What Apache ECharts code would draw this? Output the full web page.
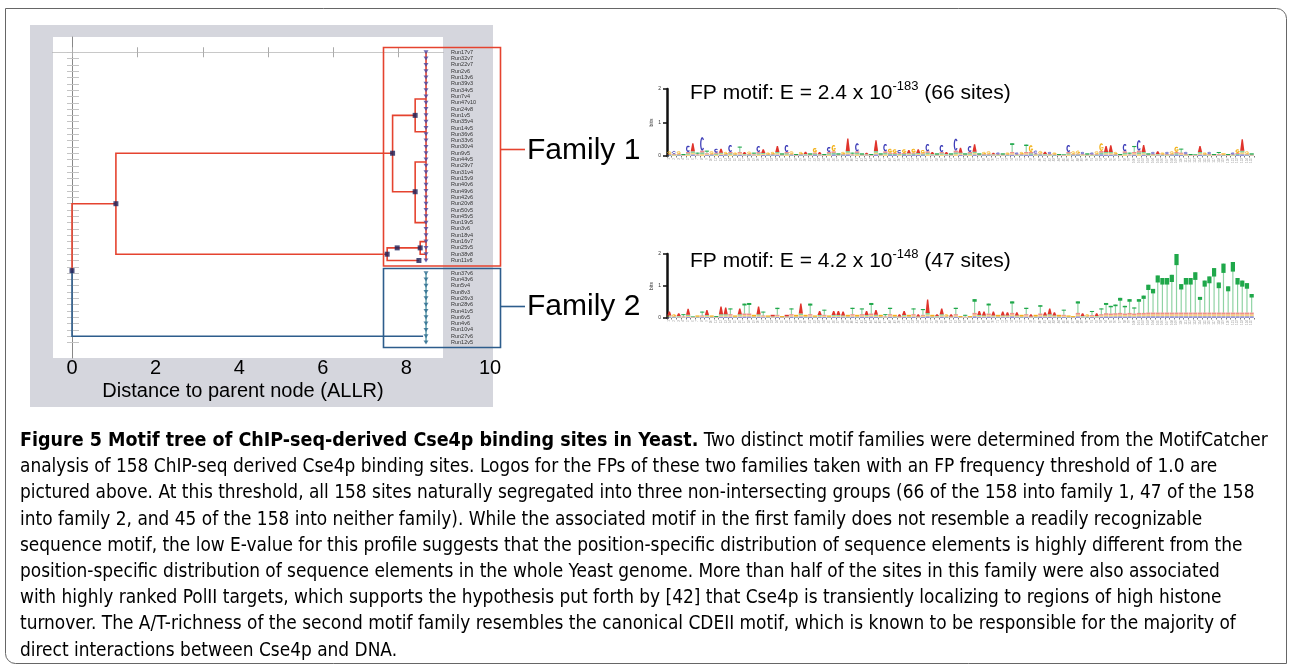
<!DOCTYPE html>
<html>
<head>
<meta charset="utf-8">
<script src="https://cdn.jsdelivr.net/npm/echarts@6/dist/echarts.min.js"></script>
<style>
  html, body { margin: 0; padding: 0; background: #fff; }
  #chart { width: 1290px; height: 666px; }
</style>
</head>
<body>
<div id="chart"></div>
<script>
// leaves of the motif tree, top to bottom
var family1Leaves = ['Run17v7','Run32v7','Run22v7','Run2v6','Run13v6','Run39v3','Run34v5','Run7v4','Run47v10','Run24v8',
  'Run1v5','Run35v4','Run14v5','Run36v6','Run33v6','Run30v4','Run9v5','Run44v5','Run29v7','Run31v4',
  'Run15v9','Run40v6','Run49v6','Run42v6','Run20v8','Run50v5','Run45v5','Run19v5','Run3v6','Run18v4',
  'Run16v7','Run25v5','Run38v8','Run11v6'];
var family2Leaves = ['Run37v6','Run43v6','Run5v4','Run8v3','Run26v3','Run28v6','Run41v5','Run6v5','Run4v6','Run10v4','Run27v6','Run12v5'];
var leafDistance = 8.47;

// elbow edges: [parent distance, parent row, child row, child distance]
var redEdges = [
  [0, 34.6, 24, 1.05],
  [1.05, 24, 16, 7.67], [1.05, 24, 32, 7.54],
  [7.67, 16, 10, 8.21], [7.67, 16, 22.1, 8.21],
  [8.21, 10, 7.4, 8.47], [8.21, 10, 12.6, 8.47],
  [8.21, 22.1, 17.4, 8.47], [8.21, 22.1, 27, 8.47],
  [7.54, 32, 31, 8.33], [7.54, 32, 33, 8.30],
  [8.33, 31, 30, 8.47], [8.33, 31, 32, 8.47]
];
var blueEdges = [[0, 34.6, 45, 8.40]];
var innerNodes = [[0, 34.6], [1.05, 24], [7.67, 16], [7.54, 32], [8.21, 10], [8.21, 22.1], [8.33, 31], [8.30, 33], [7.78, 31]];
var frameTicks = [0, 1.57, 3.13, 4.69, 6.25, 7.81];

// sequence logo of family 1: top letter, total bits, bits of the small letters under it
var logo1Letters = 'GCGTCATCTG' + 'CAGCGTAGTC' + 'AGGATCGTGA' + 'TGATCGTGAT' + 'CTATATCGGC' + 'GAGAGCATCA' +
  'TCATCATGGA' + 'CTGTCGTGCG' + 'ACGTTCGGCT' + 'CGGAAGTCTT' + 'CATCAGCGGT' + 'CTTAGCTTGT' + 'CGAGT';
var logo1Bits = [.14,.15,.14,.06,.31,.38,.10,.56,.16,.14, .22,.22,.12,.33,.10,.28,.12,.13,.10,.30,
  .20,.10,.12,.30,.08,.33,.14,.06,.12,.13, .08,.24,.12,.06,.27,.33,.08,.12,.52,.10,
  .38,.08,.10,.06,.47,.08,.36,.22,.20,.18, .20,.18,.22,.20,.18,.36,.12,.08,.33,.12,
  .08,.52,.25,.08,.30,.35,.08,.12,.14,.10, .10,.08,.10,.38,.10,.12,.34,.32,.16,.15,
  .13,.12,.10,.06,.05,.33,.14,.16,.12,.08, .10,.14,.38,.30,.32,.12,.06,.36,.10,.30,
  .47,.33,.08,.12,.14,.10,.12,.14,.28,.22, .12,.06,.05,.30,.10,.12,.06,.12,.08,.06,
  .10,.20,.50,.14,.08];
var logo1Base = [.06,.06,.06,.03,.12,.14,.05,.16,.08,.06, .10,.10,.06,.12,.05,.12,.06,.06,.05,.12,
  .09,.05,.06,.12,.04,.12,.06,.03,.06,.06, .04,.10,.05,.03,.12,.14,.04,.06,.15,.05,
  .14,.04,.05,.03,.15,.04,.14,.10,.09,.08, .09,.08,.10,.09,.08,.14,.06,.04,.12,.06,
  .04,.16,.10,.04,.12,.13,.04,.06,.06,.05, .05,.04,.05,.12,.05,.06,.12,.12,.07,.07,
  .06,.06,.05,.03,.03,.12,.06,.07,.06,.04, .05,.06,.15,.12,.12,.06,.03,.14,.05,.12,
  .16,.12,.04,.06,.06,.05,.06,.06,.12,.10, .06,.03,.03,.12,.05,.06,.03,.06,.04,.03,
  .05,.09,.16,.06,.04];

// sequence logo of family 2
var logo2Letters = 'AGATATGTAG' + 'TAATGATTGA' + 'TGATGATGAG' + 'TGATGAAAGT' + 'GTATAGTTGA' + 'AGTATAGAAG' +
  'ATGTGTAATA' + 'GAATAGTAGT' + 'AAAGTGGTAG' + 'TATTTTTTTT' + 'TTTTTTTTTT' + 'TTTTTTTTTT' + 'TTTTT';
var logo2Bits = [.20,.12,.15,.12,.29,.05,.08,.20,.25,.08, .06,.36,.33,.30,.08,.30,.45,.47,.10,.36,
  .20,.08,.10,.32,.06,.10,.30,.10,.45,.10, .45,.08,.22,.26,.08,.22,.22,.20,.10,.32,
  .10,.30,.22,.47,.25,.10,.12,.32,.10,.12, .22,.10,.30,.12,.28,.58,.10,.12,.30,.12,
  .12,.32,.06,.10,.06,.59,.22,.20,.45,.20, .10,.20,.18,.52,.18,.10,.32,.12,.10,.40,
  .18,.30,.18,.10,.26,.08,.06,.52,.15,.12, .22,.15,.30,.47,.38,.42,.63,.38,.59,.33,
  .59,.70,1.04,.91,1.33,1.25,1.25,1.35,2.0,1.06, 1.25,1.25,1.43,.66,1.17,1.30,1.56,1.11,1.70,.99,
  1.75,1.25,1.17,1.09,.75];
var logo2Base = [.08,.05,.06,.05,.10,.03,.04,.08,.09,.04, .03,.12,.12,.12,.04,.12,.14,.14,.05,.12,
  .08,.04,.05,.10,.03,.05,.12,.05,.14,.05, .12,.04,.09,.10,.04,.09,.09,.08,.05,.12,
  .05,.12,.09,.14,.10,.05,.05,.12,.05,.05, .09,.05,.12,.05,.10,.16,.05,.06,.12,.05,
  .05,.12,.03,.04,.03,.16,.09,.08,.14,.08, .05,.08,.08,.16,.08,.05,.12,.05,.05,.14,
  .08,.12,.08,.05,.10,.04,.03,.16,.06,.05, .09,.06,.12,.15,.14,.15,.16,.14,.16,.14,
  .16,.16,.17,.17,.17,.17,.17,.17,.17,.17, .17,.17,.17,.17,.17,.17,.17,.17,.17,.17,
  .17,.17,.17,.17,.17];

var captionLines = [
  'analysis of 158 ChIP-seq derived Cse4p binding sites. Logos for the FPs of these two families taken with an FP frequency threshold of 1.0 are',
  'pictured above. At this threshold, all 158 sites naturally segregated into three non-intersecting groups (66 of the 158 into family 1, 47 of the 158',
  'into family 2, and 45 of the 158 into neither family). While the associated motif in the first family does not resemble a readily recognizable',
  'sequence motif, the low E-value for this profile suggests that the position-specific distribution of sequence elements is highly different from the',
  'position-specific distribution of sequence elements in the whole Yeast genome. More than half of the sites in this family were also associated',
  'with highly ranked PolII targets, which supports the hypothesis put forth by [42] that Cse4p is transiently localizing to regions of high histone',
  'turnover. The A/T-richness of the second motif family resembles the canonical CDEII motif, which is known to be responsible for the majority of',
  'direct interactions between Cse4p and DNA.'
];

var chart = echarts.init(document.getElementById('chart'));

var rowNames = {};
var leafRows = [];
family1Leaves.forEach(function (n, i) { rowNames[i] = n; leafRows.push(i); });
family2Leaves.forEach(function (n, i) { rowNames[35 + i] = n; leafRows.push(35 + i); });
var allRows = [];
for (var r = 0; r <= 46; r++) allRows.push(r);

function elbow(e) {
  return { coords: [[e[0], e[1]], [e[0], e[2]], [e[3], e[2]]] };
}

var letterColor = { A: '#e0332b', C: '#3d3db8', G: '#f2b21b', T: '#1fa84a' };

function letterShape(ch, cx, yb, yt, w) {
  var h = yb - yt;
  var col = letterColor[ch];
  if (h < 1.6) {
    return [{ type: 'rect', shape: { x: cx - w / 2, y: yt, width: w, height: Math.max(h, 0.6) }, style: { fill: col } }];
  }
  if (ch === 'T') {
    return [
      { type: 'rect', shape: { x: cx - w * 0.14, y: yt, width: w * 0.28, height: h }, style: { fill: col, opacity: 0.5 } },
      { type: 'rect', shape: { x: cx - w / 2, y: yt, width: w, height: Math.max(h * 0.19, 1) }, style: { fill: col } }
    ];
  }
  if (ch === 'A') {
    return [{ type: 'polygon', shape: { points: [[cx - w / 2, yb], [cx - w * 0.15, yt], [cx + w * 0.15, yt], [cx + w / 2, yb]] }, style: { fill: col } }];
  }
  var lw = Math.max(Math.min(w, h) * 0.3, 0.8);
  var rx = Math.max(w / 2 - lw / 2, 0.5), ry = Math.max(h / 2 - lw / 2, 0.5);
  var cy = (yt + yb) / 2;
  var pts = [];
  for (var a = 40; a <= 320; a += 20) {
    pts.push([cx + rx * Math.cos(a * Math.PI / 180), cy - ry * Math.sin(a * Math.PI / 180)]);
  }
  var out = [{ type: 'polyline', shape: { points: pts }, style: { fill: null, stroke: col, lineWidth: lw } }];
  if (ch === 'G') {
    out.push({ type: 'rect', shape: { x: cx, y: cy, width: w / 2, height: lw }, style: { fill: col } });
  }
  return out;
}

function logoRenderer(letters) {
  return function (params, api) {
    var i = api.value(0);
    var total = api.value(1);
    var base = api.value(2);
    var bottom = api.coord([i, 0]);
    var yBase = api.coord([i, base])[1];
    var yTop = api.coord([i, total])[1];
    var w = api.size([1, 0])[0] * 0.9;
    var cx = bottom[0];
    var others = 'CGTA'.replace(letters[i], '');
    var seg = (bottom[1] - yBase) / 3;
    var children = [];
    for (var k = 0; k < 3; k++) {
      children.push({ type: 'rect', shape: { x: cx - w / 2, y: bottom[1] - seg * (k + 1), width: w, height: seg },
        style: { fill: letterColor[others[k]], opacity: 0.55 } });
    }
    return { type: 'group', children: children.concat(letterShape(letters[i], cx, yBase, yTop, w)) };
  };
}

function logoData(bits, base) {
  return bits.map(function (v, i) { return [i, v, base[i]]; });
}

var positions = [];
for (var p = 1; p <= 125; p++) positions.push(String(p));

function logoXAxis(gi) {
  return {
    gridIndex: gi, type: 'category', data: positions,
    axisLine: { show: false },
    axisTick: { show: true, interval: 0, length: 1.5, lineStyle: { color: '#555', width: 0.8 } },
    axisLabel: { show: true, interval: 0, rotate: 90, fontSize: 3, color: '#999', margin: 2 }
  };
}
function logoYAxis(gi) {
  return {
    gridIndex: gi, type: 'value', min: 0, max: 2, interval: 1,
    name: 'bits', nameLocation: 'middle', nameGap: 11, nameTextStyle: { fontSize: 5, color: '#333' },
    axisLine: { show: true, lineStyle: { color: '#111', width: 2.5 } },
    axisTick: { show: true, length: 4, lineStyle: { color: '#111', width: 1.5 } },
    axisLabel: { fontSize: 5, color: '#333', margin: 6 },
    splitLine: { show: false }
  };
}

var sansFont = "'Liberation Sans', Arial, sans-serif";
var captionFont = "'Liberation Sans Narrow', 'DejaVu Sans Condensed', sans-serif";

var captionText = '{b|Figure 5 Motif tree of ChIP-seq-derived Cse4p binding sites in Yeast.}{n| Two distinct motif families were determined from the MotifCatcher}\n' +
  captionLines.map(function (l) { return '{n|' + l + '}'; }).join('\n');

var option = {
  backgroundColor: '#fff',
  animation: false,
  grid: [
    { left: 53, top: 37, width: 390, height: 321, show: true, backgroundColor: '#fff', borderWidth: 0 },
    { left: 72, top: 37, width: 418, height: 321, show: false },
    { left: 667, top: 89, width: 587, height: 67 },
    { left: 667, top: 254, width: 587, height: 64 }
  ],
  xAxis: [
    { gridIndex: 0, type: 'value', min: -0.455, max: 8.876, position: 'bottom',
      name: 'Distance to parent node (ALLR)', nameLocation: 'middle', nameGap: 23,
      nameTextStyle: { fontSize: 20, color: '#000', fontFamily: sansFont, padding: [0, 10, 0, 0] },
      axisLine: { lineStyle: { color: '#888', width: 1 } },
      axisTick: { show: true, inside: true, length: 5, customValues: frameTicks, lineStyle: { color: '#aaa' } },
      axisLabel: { show: false }, splitLine: { show: false } },
    { gridIndex: 0, type: 'value', min: -0.455, max: 8.876, position: 'top',
      axisLine: { lineStyle: { color: '#c8c8c8', width: 1 } },
      axisTick: { show: true, inside: true, length: 5, customValues: frameTicks, lineStyle: { color: '#aaa' } },
      axisLabel: { show: false }, splitLine: { show: false } },
    { gridIndex: 1, type: 'value', min: 0, max: 10, interval: 2, position: 'bottom',
      axisLine: { show: false }, axisTick: { show: false }, splitLine: { show: false },
      axisLabel: { fontSize: 20, color: '#000', fontFamily: sansFont, margin: 0, showMinLabel: true, showMaxLabel: true } },
    logoXAxis(2),
    logoXAxis(3)
  ],
  yAxis: [
    { gridIndex: 0, type: 'value', inverse: true, min: -2.42, max: 48.45, position: 'left',
      axisLine: { show: true, lineStyle: { color: '#888', width: 1 } },
      axisTick: { show: true, inside: true, length: 7, customValues: allRows, lineStyle: { color: '#c4c4c4' } },
      axisLabel: { show: false }, splitLine: { show: false } },
    { gridIndex: 0, type: 'value', inverse: true, min: -2.42, max: 48.45, position: 'right',
      axisLine: { show: false },
      axisTick: { show: true, inside: true, length: 5, customValues: allRows, lineStyle: { color: '#c4c4c4' } },
      axisLabel: { show: true, customValues: leafRows, margin: 8, fontSize: 5.5, color: '#333', fontFamily: sansFont,
        formatter: function (v) { return rowNames[Math.round(v)] || ''; } },
      splitLine: { show: false } },
    { gridIndex: 1, type: 'value', min: 0, max: 1, show: false },
    logoYAxis(2),
    logoYAxis(3)
  ],
  graphic: [
    { type: 'rect', z: -10, shape: { x: 30, y: 25, width: 463, height: 382 }, style: { fill: '#d5d6dd' } },
    { type: 'rect', z: -11, shape: { x: 5.5, y: 8.5, width: 1281, height: 655, r: [0, 10, 0, 10] },
      style: { fill: null, stroke: '#666', lineWidth: 1 } },
    { type: 'rect', z: 100, shape: { x: 383.5, y: 47.5, width: 117, height: 218.5 },
      style: { fill: null, stroke: '#e5432f', lineWidth: 1.6 } },
    { type: 'rect', z: 100, shape: { x: 383.5, y: 268.5, width: 117, height: 79 },
      style: { fill: null, stroke: '#2d5d8c', lineWidth: 1.6 } },
    { type: 'line', z: 100, shape: { x1: 500.5, y1: 149.5, x2: 525, y2: 149.5 }, style: { stroke: '#e5432f', lineWidth: 1.6 } },
    { type: 'line', z: 100, shape: { x1: 500.5, y1: 306.5, x2: 525, y2: 306.5 }, style: { stroke: '#2d5d8c', lineWidth: 1.6 } },
    { type: 'text', z: 100, x: 527, y: 151, style: { text: 'Family 1', fontSize: 30, fontFamily: sansFont, fill: '#000', verticalAlign: 'middle' } },
    { type: 'text', z: 100, x: 527, y: 307, style: { text: 'Family 2', fontSize: 30, fontFamily: sansFont, fill: '#000', verticalAlign: 'middle' } },
    { type: 'text', z: 100, x: 690, y: 80, style: {
      text: '{n|FP motif: E = 2.4 x 10}{s|-183}{n| (66 sites)}', fill: '#000',
      rich: { n: { fontSize: 21, lineHeight: 24, fontFamily: sansFont, verticalAlign: 'bottom' },
              s: { fontSize: 13, lineHeight: 13, fontFamily: sansFont, verticalAlign: 'top' } } } },
    { type: 'text', z: 100, x: 690, y: 248, style: {
      text: '{n|FP motif: E = 4.2 x 10}{s|-148}{n| (47 sites)}', fill: '#000',
      rich: { n: { fontSize: 21, lineHeight: 24, fontFamily: sansFont, verticalAlign: 'bottom' },
              s: { fontSize: 13, lineHeight: 13, fontFamily: sansFont, verticalAlign: 'top' } } } },
    { type: 'text', z: 100, x: 20, y: 428, style: {
      text: captionText,
      rich: { b: { fontSize: 19.5, lineHeight: 26.2, fontWeight: 'bold', fontFamily: captionFont, color: '#111' },
              n: { fontSize: 18.9, lineHeight: 26.2, fontFamily: captionFont, color: '#333' } } } }
  ],
  series: [
    { type: 'lines', coordinateSystem: 'cartesian2d', xAxisIndex: 0, yAxisIndex: 0, polyline: true, z: 3,
      lineStyle: { color: '#e5432f', width: 1.6, opacity: 1 },
      data: redEdges.map(elbow).concat([{ coords: [[leafDistance, 0], [leafDistance, family1Leaves.length - 1]] }]) },
    { type: 'lines', coordinateSystem: 'cartesian2d', xAxisIndex: 0, yAxisIndex: 0, polyline: true, z: 3,
      lineStyle: { color: '#2d5d8c', width: 1.6, opacity: 1 },
      data: blueEdges.map(elbow) },
    { type: 'lines', coordinateSystem: 'cartesian2d', xAxisIndex: 0, yAxisIndex: 0, polyline: true, z: 3,
      lineStyle: { color: '#3c8a98', width: 1.2, opacity: 1 },
      data: [{ coords: [[leafDistance, 35], [leafDistance, 35 + family2Leaves.length - 1]] }] },
    { type: 'scatter', xAxisIndex: 0, yAxisIndex: 0, z: 4, symbol: 'triangle', symbolRotate: 180, symbolSize: [5, 4],
      itemStyle: { color: '#4a47a3' },
      data: family1Leaves.map(function (n, i) { return [leafDistance, i]; }) },
    { type: 'scatter', xAxisIndex: 0, yAxisIndex: 0, z: 4, symbol: 'triangle', symbolRotate: 180, symbolSize: [5, 4],
      itemStyle: { color: '#2b6a8e' },
      data: family2Leaves.map(function (n, i) { return [leafDistance, 35 + i]; }) },
    { type: 'scatter', xAxisIndex: 0, yAxisIndex: 0, z: 5, symbol: 'rect', symbolSize: 5,
      itemStyle: { color: '#1c1f57' }, data: innerNodes },
    { type: 'custom', xAxisIndex: 3, yAxisIndex: 3, renderItem: logoRenderer(logo1Letters),
      data: logoData(logo1Bits, logo1Base) },
    { type: 'custom', xAxisIndex: 4, yAxisIndex: 4, renderItem: logoRenderer(logo2Letters),
      data: logoData(logo2Bits, logo2Base) }
  ]
};

chart.setOption(option);
</script>
</body>
</html>
